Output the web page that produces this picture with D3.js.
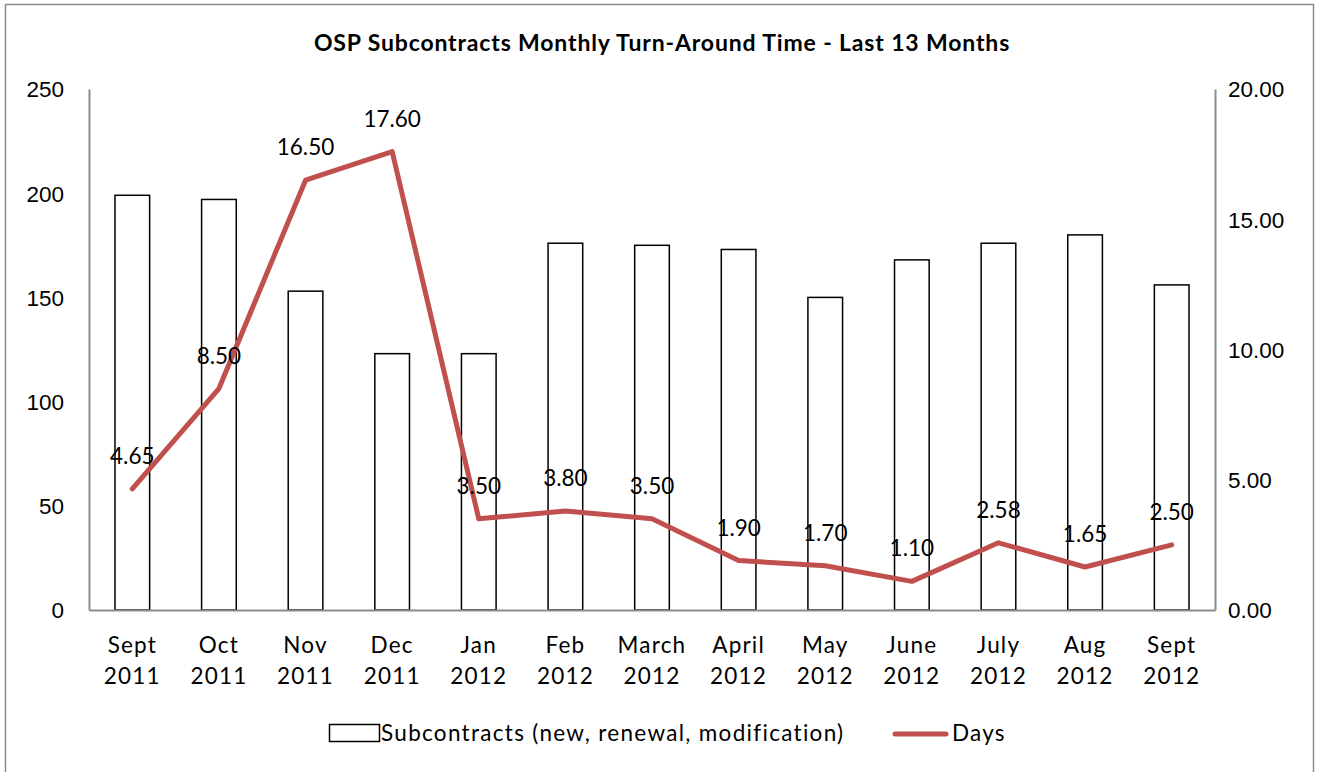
<html lang="en">
<head>
    <meta charset="UTF-8">
    <title>OSP Subcontracts Monthly Turn-Around Time</title>
    <script src="https://d3js.org/d3.v7.min.js"></script>
    <style>
        body { margin: 0; background: #fff; }
        svg { font-family: Lato, "Open Sans", sans-serif; }
    </style>
</head>
<body>
    <script>
        // data
        const months = ["Sept 2011", "Oct 2011", "Nov 2011", "Dec 2011", "Jan 2012", "Feb 2012", "March 2012",
            "April 2012", "May 2012", "June 2012", "July 2012", "Aug 2012", "Sept 2012"];
        const subcontracts = [199, 197, 153, 123, 123, 176, 175, 173, 150, 168, 176, 180, 156];
        const days = [4.65, 8.50, 16.50, 17.60, 3.50, 3.80, 3.50, 1.90, 1.70, 1.10, 2.58, 1.65, 2.50];
        const leftTicks = [0, 50, 100, 150, 200, 250];
        const rightTicks = [0, 5, 10, 15, 20];

        const width = 1318, height = 772;
        const margin = { top: 89, right: 103, bottom: 162, left: 89 };

        const svg = d3.select("body").append("svg")
            .attr("width", width)
            .attr("height", height);

        // outer chart border
        svg.append("rect")
            .attr("x", 5.5).attr("y", 4.5)
            .attr("width", 1308).attr("height", 780)
            .attr("fill", "none")
            .attr("stroke", "#8c8c8c")
            .attr("stroke-width", 1.5);

        const x = d3.scaleBand()
            .domain(months)
            .range([margin.left, width - margin.right])
            .padding(0);

        const y = d3.scaleLinear().domain([0, 250]).range([height - margin.bottom, margin.top]);
        const y2 = d3.scaleLinear().domain([0, 20]).range([height - margin.bottom, margin.top]);

        // title
        svg.append("text")
            .attr("x", 662)
            .attr("y", 51)
            .attr("text-anchor", "middle")
            .style("font-size", "23px")
            .style("font-weight", "bold")
            .style("letter-spacing", "0.85px")
            .text("OSP Subcontracts Monthly Turn-Around Time - Last 13 Months");

        // bars
        const bw = x.bandwidth() * 0.4;
        svg.append("g")
            .selectAll("rect")
            .data(months)
            .join("rect")
            .attr("x", d => x(d) + (x.bandwidth() - bw) / 2)
            .attr("y", (d, i) => y(subcontracts[i]))
            .attr("width", bw)
            .attr("height", (d, i) => y(0) - y(subcontracts[i]))
            .attr("fill", "#fff")
            .attr("stroke", "#000")
            .attr("stroke-width", 1.5);

        // axes
        const axisColor = "#8c8c8c";
        const left = svg.append("g")
            .attr("transform", `translate(${margin.left},0)`)
            .call(d3.axisLeft(y).tickValues(leftTicks).tickSize(0).tickPadding(25));
        const right = svg.append("g")
            .attr("transform", `translate(${width - margin.right},0)`)
            .call(d3.axisRight(y2).tickValues(rightTicks).tickSize(0).tickPadding(13).tickFormat(d3.format(".2f")));
        const bottom = svg.append("g")
            .attr("transform", `translate(0,${height - margin.bottom})`)
            .call(d3.axisBottom(x).tickSize(0).tickFormat(""));

        [left, right, bottom].forEach(g => {
            g.select(".domain").attr("stroke", axisColor).attr("stroke-width", 2);
            g.selectAll("text").style("font-size", "22.5px").attr("fill", "#000").attr("font-family", null);
        });
        left.selectAll("text").attr("dy", "0.35em");
        right.selectAll("text").attr("dy", "0.35em");

        // two-line month labels
        const xl = svg.append("g").selectAll("text")
            .data(months)
            .join("text")
            .attr("x", d => x(d) + x.bandwidth() / 2)
            .attr("y", 653)
            .attr("text-anchor", "middle")
            .style("font-size", "22.5px")
            .style("letter-spacing", "1.2px");
        xl.append("tspan").attr("x", d => x(d) + x.bandwidth() / 2).text(d => d.split(" ")[0]);
        xl.append("tspan").attr("x", d => x(d) + x.bandwidth() / 2).attr("dy", 31).text(d => d.split(" ")[1]);

        // days line
        const cx = d => x(d) + x.bandwidth() / 2;
        const line = d3.line()
            .x(d => cx(d))
            .y((d, i) => y2(days[i]));
        svg.append("path")
            .datum(months)
            .attr("d", line)
            .attr("fill", "none")
            .attr("stroke", "#c0504d")
            .attr("stroke-width", 5)
            .attr("stroke-linejoin", "round")
            .attr("stroke-linecap", "round");

        // data labels
        svg.append("g").selectAll("text")
            .data(months)
            .join("text")
            .attr("x", d => cx(d))
            .attr("y", (d, i) => y2(days[i]) - 25)
            .attr("text-anchor", "middle")
            .style("font-size", "22.5px")
            .text((d, i) => d3.format(".2f")(days[i]));

        // legend
        const lg = svg.append("g");
        lg.append("rect")
            .attr("x", 329.5).attr("y", 724.5)
            .attr("width", 50).attr("height", 17)
            .attr("fill", "#fff").attr("stroke", "#000").attr("stroke-width", 1.5);
        lg.append("text")
            .attr("x", 381).attr("y", 741)
            .style("font-size", "22.5px")
            .style("letter-spacing", "1.3px")
            .text("Subcontracts (new, renewal, modification)");
        lg.append("line")
            .attr("x1", 895).attr("x2", 946).attr("y1", 734).attr("y2", 734)
            .attr("stroke", "#c0504d").attr("stroke-width", 5).attr("stroke-linecap", "round");
        lg.append("text")
            .attr("x", 952).attr("y", 741)
            .style("font-size", "22.5px")
            .style("letter-spacing", "1.2px")
            .text("Days");
    </script>
</body>
</html>
